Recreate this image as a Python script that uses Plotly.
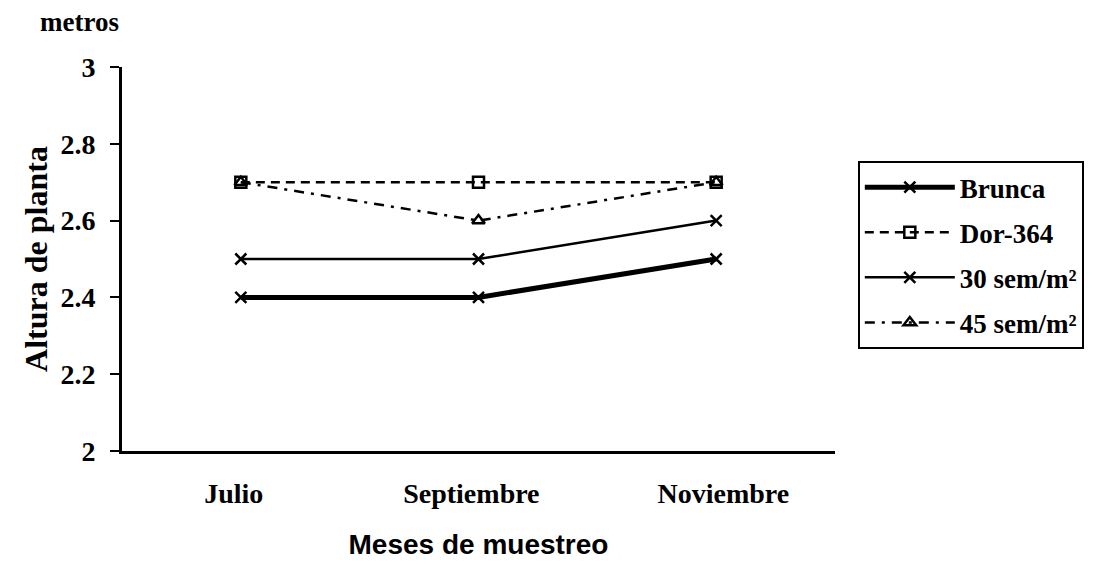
import plotly.graph_objects as go

months = ["Julio", "Septiembre", "Noviembre"]
x_pos = [0, 1, 2]
brunca = [2.4, 2.4, 2.5]
dor364 = [2.7, 2.7, 2.7]
sem30 = [2.5, 2.5, 2.6]
sem45 = [2.7, 2.6, 2.7]
y_ticks = [2, 2.2, 2.4, 2.6, 2.8, 3]
y_ticktext = ["2", "2.2", "2.4", "2.6", "2.8", "3"]

SERIF = "Liberation Serif, Times New Roman, serif"
SANS = "Liberation Sans, Arial, sans-serif"

fig = go.Figure()
series = [
    ("Brunca", brunca, dict(width=5, dash="solid"), dict(symbol="x-thin", size=11, line=dict(width=2.5, color="black"))),
    ("Dor-364", dor364, dict(width=2.5, dash="9px,6px"), dict(symbol="square-open", size=11, line=dict(width=2.5, color="black"))),
    ("30 sem/m²", sem30, dict(width=2.5, dash="solid"), dict(symbol="x-thin", size=11, line=dict(width=2.5, color="black"))),
    ("45 sem/m²", sem45, dict(width=2.5, dash="10px,7px,3px,7px"), dict(symbol="triangle-up-open", size=11, line=dict(width=2.5, color="black"))),
]
for name, vals, ln, mk in series:
    fig.add_trace(go.Scatter(
        x=x_pos, y=vals, name=name, mode="lines+markers",
        line=dict(color="black", **ln), marker=dict(color="black", **mk),
        legendgroup=name,
    ))

fig.update_layout(
    width=1091, height=559,
    paper_bgcolor="white", plot_bgcolor="white",
    margin=dict(l=114, r=264, t=59, b=116, autoexpand=False),
    font=dict(family=SERIF, color="black"),
    showlegend=True,
    legend=dict(
        x=1.032, y=0.755, xanchor="left", yanchor="top",
        bordercolor="black", borderwidth=2,
        font=dict(family=SERIF, size=27, color="black", weight="bold"),
        tracegroupgap=7, itemwidth=90,
    ),
    xaxis=dict(
        range=[-0.5, 2.5], tickmode="array",
        tickvals=[-0.03, 0.97, 2.03], ticktext=months,
        showgrid=False, zeroline=False, automargin=False,
        showline=True, linecolor="black", linewidth=3,
        ticks="", ticklabelstandoff=15,
        tickfont=dict(family=SERIF, size=28, color="black", weight="bold"),
        title=dict(text="Meses de muestreo", standoff=27,
                   font=dict(family=SANS, size=28, color="black", weight="bold")),
    ),
    yaxis=dict(
        range=[2, 3], tickmode="array", tickvals=y_ticks, ticktext=y_ticktext,
        showgrid=False, zeroline=False, automargin=False,
        showline=True, linecolor="black", linewidth=3,
        ticks="outside", ticklen=9, tickwidth=2, tickcolor="black",
        ticklabelstandoff=9,
        tickfont=dict(family=SERIF, size=28, color="black", weight="bold"),
        title=dict(text="Altura de planta", standoff=4,
                   font=dict(family=SERIF, size=32, color="black", weight="bold")),
    ),
    annotations=[dict(
        text="metros", xref="paper", yref="paper", x=-0.06, y=1.072,
        xanchor="center", yanchor="bottom", showarrow=False,
        font=dict(family=SERIF, size=27, color="black", weight="bold"),
    )],
)

fig.write_html("out.html")
